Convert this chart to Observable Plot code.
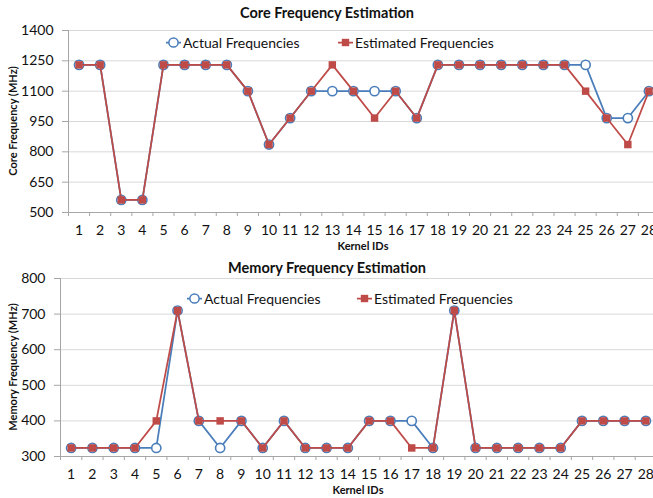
<!DOCTYPE html>
<html>
<head>
<meta charset="utf-8">
<script src="https://cdn.jsdelivr.net/npm/d3@7"></script>
<script src="https://cdn.jsdelivr.net/npm/@observablehq/plot@0.6"></script>
<style>
  html, body { margin: 0; padding: 0; background: #fff; }
  #root { position: relative; width: 653px; height: 498px; overflow: hidden; font-family: Lato, "Open Sans", sans-serif; color: #111; }
  .abs { position: absolute; white-space: nowrap; }
  .title { font-weight: bold; font-size: 14.5px; transform: translate(-50%, -50%); }
  .xlab { font-weight: bold; font-size: 11px; transform: translate(-50%, -50%); }
  .ylab { font-weight: bold; font-size: 11px; transform: translate(-50%, -50%) rotate(-90deg); }
  .leg { font-size: 14px; display: flex; align-items: center; transform: translateY(-50%); }
  .leg svg { display: block; margin-right: 2px; }
  .chart { position: absolute; left: 0; }
</style>
</head>
<body>
<div id="root"></div>
<script>
const kernels = [1,2,3,4,5,6,7,8,9,10,11,12,13,14,15,16,17,18,19,20,21,22,23,24,25,26,27,28];
const coreActual    = [1230,1230,562,562,1230,1230,1230,1230,1100,836,967,1100,1100,1100,1100,1100,967,1230,1230,1230,1230,1230,1230,1230,1230,967,967,1100];
const coreEstimated = [1230,1230,562,562,1230,1230,1230,1230,1100,836,967,1100,1230,1100,967,1100,967,1230,1230,1230,1230,1230,1230,1230,1100,967,836,1100];
const memActual     = [324,324,324,324,324,710,400,324,400,324,400,324,324,324,400,400,400,324,710,324,324,324,324,324,400,400,400,400];
const memEstimated  = [324,324,324,324,400,710,400,400,400,324,400,324,324,324,400,400,324,324,710,324,324,324,324,324,400,400,400,400];
const coreTicks = [500,650,800,950,1100,1250,1400];
const memTicks = [300,400,500,600,700,800];
const seriesNames = ["Actual Frequencies", "Estimated Frequencies"];

const BLUE = "#4A7EBB";
const RED = "#BE4B48";
const GRID = "#d9d9d9";
const AXIS = "#a6a6a6";

const root = document.getElementById("root");

function makeChart(actual, estimated, ticks, opts) {
  const act = kernels.map((k, i) => ({k, v: actual[i]}));
  const est = kernels.map((k, i) => ({k, v: estimated[i]}));
  const bounds = kernels.map(k => k - 0.5).concat([kernels[kernels.length - 1] + 0.5]);
  const yMin = ticks[0], yMax = ticks[ticks.length - 1];
  return Plot.plot({
    width: opts.width,
    height: opts.height,
    marginLeft: opts.marginLeft,
    marginRight: 0,
    marginTop: opts.marginTop,
    marginBottom: opts.marginBottom,
    style: {fontFamily: "Lato, 'Open Sans', sans-serif", fontSize: "14px", maxWidth: "none", overflow: "visible", background: "transparent", color: "#111"},
    x: {domain: [bounds[0], bounds[bounds.length - 1]]},
    y: {domain: [yMin, yMax]},
    marks: [
      Plot.gridY(ticks, {stroke: GRID, strokeOpacity: 1}),
      Plot.ruleY([yMin], {stroke: AXIS}),
      Plot.ruleX([bounds[0]], {stroke: AXIS}),
      Plot.axisY(ticks, {tickSize: 6, tickFormat: () => "", stroke: AXIS, strokeOpacity: 1, label: null}),
      Plot.axisY(ticks, {tickSize: 0, tickPadding: 15, tickFormat: d => String(d), fill: "#111", label: null}),
      Plot.axisX(bounds, {tickSize: 4, tickFormat: () => "", stroke: AXIS, strokeOpacity: 1, label: null}),
      Plot.axisX(kernels, {tickSize: 0, tickPadding: opts.xPad, tickFormat: d => String(d), fill: "#111", label: null}),
      Plot.line(act, {x: "k", y: "v", stroke: BLUE, strokeWidth: 1.75}),
      Plot.dot(act, {x: "k", y: "v", r: 4.6, stroke: BLUE, strokeWidth: 1.6, fill: "white"}),
      Plot.line(est, {x: "k", y: "v", stroke: RED, strokeWidth: 1.75}),
      Plot.dot(est, {x: "k", y: "v", r: 4.2, symbol: "square", fill: RED, stroke: "none"})
    ]
  });
}

function addText(cls, text, x, y) {
  const d = document.createElement("div");
  d.className = "abs " + cls;
  d.textContent = text;
  d.style.left = x + "px";
  d.style.top = y + "px";
  root.appendChild(d);
}

function addLegendItem(name, kind, x, y) {
  const d = document.createElement("div");
  d.className = "abs leg";
  d.style.left = x + "px";
  d.style.top = y + "px";
  const color = kind === "circle" ? BLUE : RED;
  const marker = kind === "circle"
    ? `<circle cx="7.5" cy="6" r="4.6" fill="white" stroke="${color}" stroke-width="1.5"/>`
    : `<rect x="3.8" y="2.3" width="7.4" height="7.4" fill="${color}"/>`;
  d.innerHTML = `<svg width="15" height="12"><line x1="0" y1="6" x2="15" y2="6" stroke="${color}" stroke-width="1.75"/>${marker}</svg><span>${name}</span>`;
  root.appendChild(d);
}

// Top chart
const coreChart = makeChart(coreActual, coreEstimated, coreTicks, {width: 659, height: 250, marginLeft: 68, marginTop: 30, marginBottom: 38, xPad: 13});
coreChart.classList.add("chart");
coreChart.style.top = "0px";
root.appendChild(coreChart);

// Bottom chart
const memChart = makeChart(memActual, memEstimated, memTicks, {width: 656, height: 248, marginLeft: 60, marginTop: 28, marginBottom: 42, xPad: 13});
memChart.classList.add("chart");
memChart.style.top = "250px";
root.appendChild(memChart);

addText("title", "Core Frequency Estimation", 327, 12);
addText("xlab", "Kernel IDs", 363, 245);
addText("ylab", "Core Frequency (MHz)", 12, 121);
addLegendItem(seriesNames[0], "circle", 166, 42);
addLegendItem(seriesNames[1], "square", 338, 42);

addText("title", "Memory Frequency Estimation", 327, 267);
addText("xlab", "Kernel IDs", 358, 489);
addText("ylab", "Memory Frequency (MHz)", 12, 367);
addLegendItem(seriesNames[0], "circle", 187, 298);
addLegendItem(seriesNames[1], "square", 357, 298);
</script>
</body>
</html>
